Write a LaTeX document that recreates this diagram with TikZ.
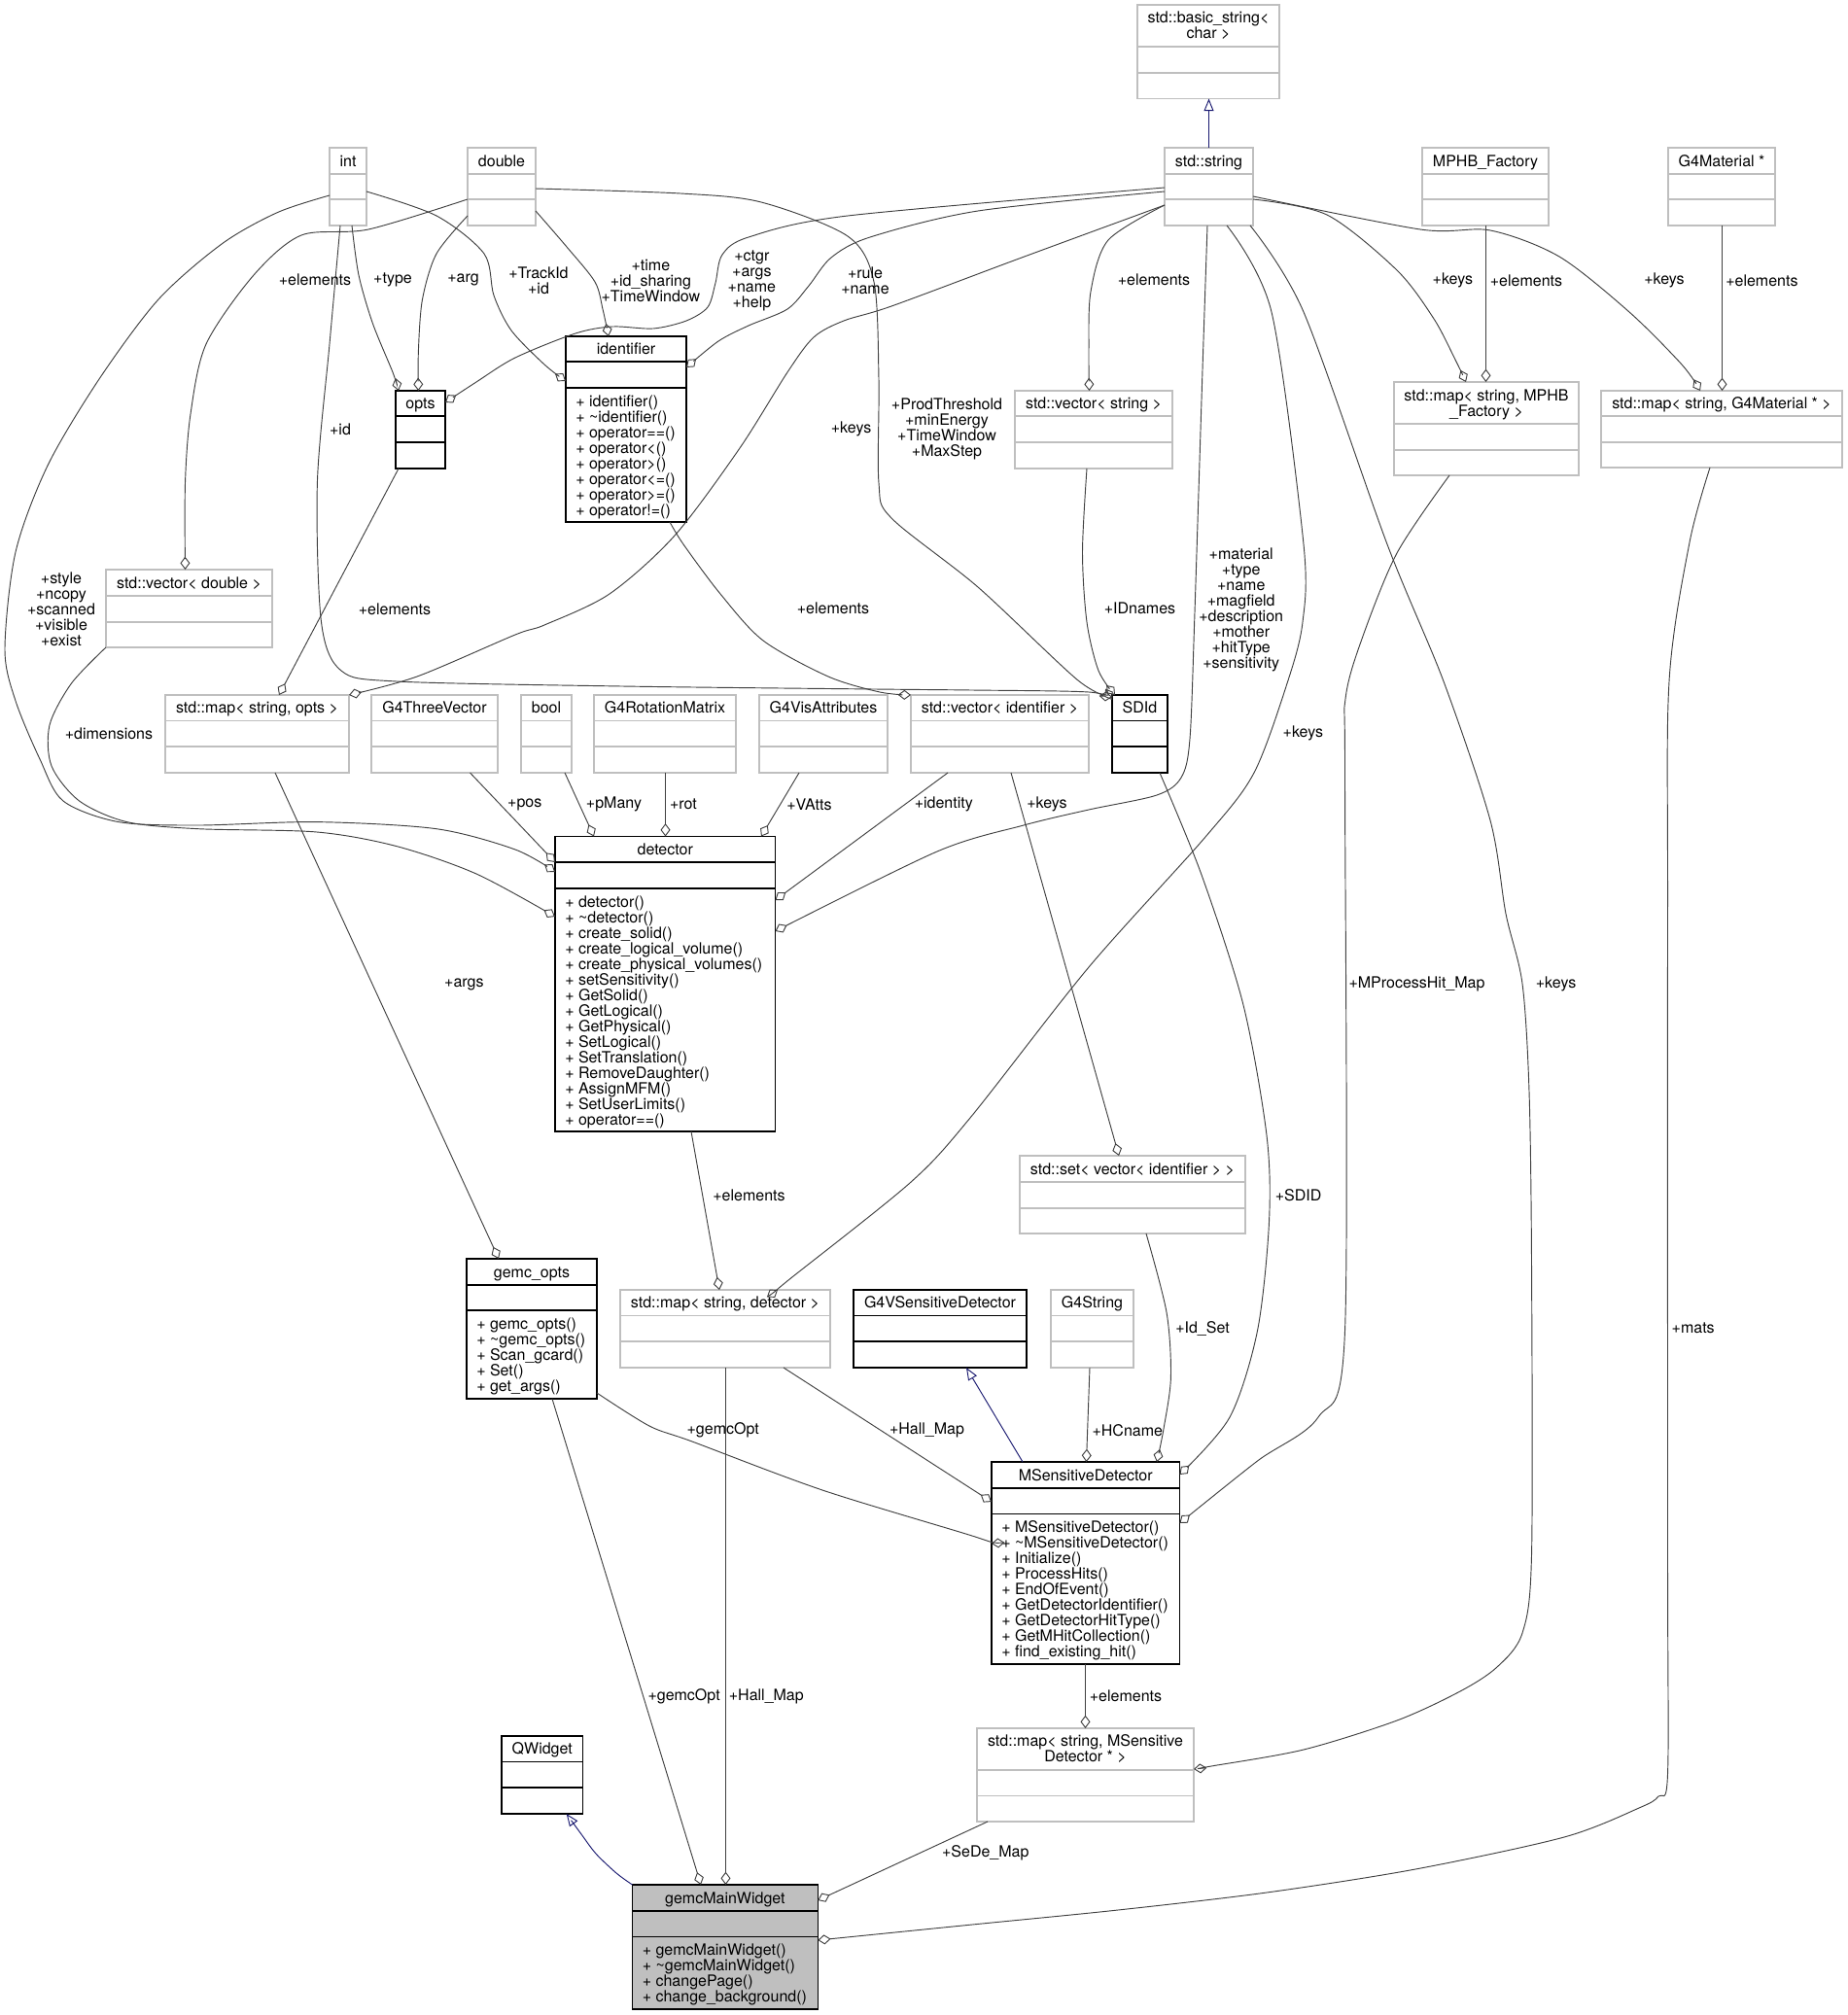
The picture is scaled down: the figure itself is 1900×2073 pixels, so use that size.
\documentclass[tikz,border=0pt]{standalone}
\usepackage{fontspec}
\setmainfont{TeX Gyre Heros}
\usetikzlibrary{fit,arrows.meta}
\definecolor{edgegray}{HTML}{404040}
\definecolor{boxgray}{HTML}{BFBFBF}
\definecolor{inhblue}{HTML}{191970}
\newcommand\dfont{\fontsize{12}{12}\selectfont}
% #1 name, #2 x1, #3 y1, #4 x2, #5 y2, #6 sep1, #7 sep2, #8 style
\newcommand\clsbox[8]{%
  \node[#8, fit={(#2,#3) (#4,#5)}] (#1) {};
  \draw[#8] (#1.west |- 0,#6) -- (#1.east |- 0,#6);
  \draw[#8] (#1.west |- 0,#7) -- (#1.east |- 0,#7);
}
\tikzset{
  docbox/.style={draw=black, line width=1.1pt, inner sep=0pt, outer sep=0pt},
  extbox/.style={draw=boxgray, line width=1.1pt, inner sep=0pt, outer sep=0pt},
  mainbox/.style={docbox, fill=boxgray},
  ttl/.style={anchor=base, inner sep=0pt, font=\dfont},
  ttltwo/.style={anchor=north, inner sep=0pt, align=center, font=\dfont},
  mem/.style={anchor=north west, inner sep=0pt, align=left, font=\dfont},
  lbl/.style={inner sep=0pt, align=center, font=\dfont},
  edge/.style={draw=edgegray, line width=0.7pt},
  agg/.style={edge, -{Diamond[open, length=10pt, width=7.5pt]}},
  inh/.style={draw=inhblue, line width=0.7pt, -{Triangle[open, length=9.5pt, width=7.5pt]}},
}
\begin{document}
\begin{tikzpicture}[x=0.75pt, y=-0.75pt]
\useasboundingbox (0,0) rectangle (1900,2073);
\fill[white] (0,0) rectangle (1900,2073);

% ---------------- class boxes ----------------
\clsbox{int}{339}{152}{377}{232}{179}{205}{extbox}
\clsbox{dbl}{481}{152}{551}{232}{179}{205}{extbox}
\clsbox{sstr}{1198}{152}{1289}{232}{179}{205}{extbox}
\clsbox{mphb}{1463}{152}{1593}{232}{179}{205}{extbox}
\clsbox{gmat}{1716}{152}{1826}{232}{179}{205}{extbox}
\clsbox{bstr}{1170}{5}{1316}{101.5}{48}{75}{extbox}
\clsbox{opts}{407}{402}{458}{482}{428}{455}{docbox}
\clsbox{ident}{582}{346}{706}{537}{372}{399}{docbox}
\clsbox{vstr}{1044}{402}{1206}{482}{428}{455}{extbox}
\clsbox{mmphb}{1434}{393}{1624}{489}{436}{463}{extbox}
\clsbox{mgmat}{1647}{402}{1895}{481}{428}{455}{extbox}
\clsbox{vdbl}{109}{586}{280}{666}{613}{640}{extbox}
\clsbox{mopts}{170}{715}{359}{795}{741.5}{768}{extbox}
\clsbox{g4tv}{382}{715}{512}{795}{741.5}{768}{extbox}
\clsbox{bool}{536}{715}{588}{795}{741.5}{768}{extbox}
\clsbox{g4rm}{611}{715}{757}{795}{741.5}{768}{extbox}
\clsbox{g4va}{781}{715}{913}{795}{741.5}{768}{extbox}
\clsbox{vid}{937}{715}{1120}{795}{741.5}{768}{extbox}
\clsbox{sdid}{1144}{715}{1201}{795}{741.5}{768}{docbox}
\clsbox{det}{571}{860.5}{797.5}{1164}{887}{914}{docbox}
\clsbox{set}{1049}{1189}{1281}{1269}{1216}{1243}{extbox}
\clsbox{gopts}{480}{1295}{614}{1439}{1322}{1348}{docbox}
\clsbox{mdet}{638}{1327}{854}{1407}{1353.5}{1380}{extbox}
\clsbox{g4vsd}{878}{1327}{1056}{1407}{1353.5}{1380}{docbox}
\clsbox{g4s}{1081}{1327}{1166}{1407}{1353.5}{1380}{extbox}
\clsbox{msd}{1020}{1504}{1213.5}{1712}{1531}{1557.5}{docbox}
\clsbox{mmsd}{1005}{1778}{1228}{1874}{1821}{1847.5}{extbox}
\clsbox{qw}{516}{1786}{599.5}{1866}{1812.5}{1839}{docbox}
\clsbox{gmw}{650.5}{1939}{841.3}{2067}{1966}{1992.5}{mainbox}

% ---------------- titles ----------------
\node[ttl] (int-t) at (358,171) {int};
\node[ttl] (dbl-t) at (516,171) {double};
\node[ttl] (sstr-t) at (1243.5,171) {std::string};
\node[ttl] (mphb-t) at (1528,171) {MPHB\_Factory};
\node[ttl] (gmat-t) at (1771,171) {G4Material *};
\node[ttltwo] (bstr-t) at (1243,10) {\rule{0pt}{10pt}std::basic\_string<\\char >};
\node[ttl] (opts-t) at (432.5,420.5) {opts};
\node[ttl] (ident-t) at (644,364.5) {identifier};
\node[ttl] (vstr-t) at (1125,420.5) {std::vector< string >};
\node[ttltwo] (mmphb-t) at (1529,399) {\rule{0pt}{10pt}std::map< string, MPHB\\\_Factory >};
\node[ttl] (mgmat-t) at (1771,420.5) {std::map< string, G4Material * >};
\node[ttl] (vdbl-t) at (194.5,605) {std::vector< double >};
\node[ttl] (mopts-t) at (264.5,733.75) {std::map< string, opts >};
\node[ttl] (g4tv-t) at (447,733.75) {G4ThreeVector};
\node[ttl] (bool-t) at (562,733.75) {bool};
\node[ttl] (g4rm-t) at (684,733.75) {G4RotationMatrix};
\node[ttl] (g4va-t) at (847,733.75) {G4VisAttributes};
\node[ttl] (vid-t) at (1028.5,733.75) {std::vector< identifier >};
\node[ttl] (sdid-t) at (1172.5,733.75) {SDId};
\node[ttl] (det-t) at (684.25,879.25) {detector};
\node[ttl] (set-t) at (1165,1208) {std::set< vector< identifier > >};
\node[ttl] (gopts-t) at (547,1314) {gemc\_opts};
\node[ttl] (mdet-t) at (746,1345.75) {std::map< string, detector >};
\node[ttl] (g4vsd-t) at (967,1345.75) {G4VSensitiveDetector};
\node[ttl] (g4s-t) at (1123.5,1345.75) {G4String};
\node[ttl] (msd-t) at (1116.75,1523) {MSensitiveDetector};
\node[ttltwo] (mmsd-t) at (1116.5,1783.2) {\rule{0pt}{10pt}std::map< string, MSensitive\\Detector * >};
\node[ttl] (qw-t) at (557.75,1804.75) {QWidget};
\node[ttl] (gmw-t) at (745.9,1958) {gemcMainWidget};

% ---------------- members ----------------
\node[mem] (ident-m) at (592,404.7) {\rule{0pt}{10pt}+ identifier()\\+ \textasciitilde identifier()\\+ operator==()\\+ operator<()\\+ operator>()\\+ operator<=()\\+ operator>=()\\+ operator!=()};
\node[mem] (det-m) at (581,919.7) {\rule{0pt}{10pt}+ detector()\\+ \textasciitilde detector()\\+ create\_solid()\\+ create\_logical\_volume()\\+ create\_physical\_volumes()\\+ setSensitivity()\\+ GetSolid()\\+ GetLogical()\\+ GetPhysical()\\+ SetLogical()\\+ SetTranslation()\\+ RemoveDaughter()\\+ AssignMFM()\\+ SetUserLimits()\\+ operator==()};
\node[mem] (gopts-m) at (490,1353.7) {\rule{0pt}{10pt}+ gemc\_opts()\\+ \textasciitilde gemc\_opts()\\+ Scan\_gcard()\\+ Set()\\+ get\_args()};
\node[mem] (msd-m) at (1030,1563.2) {\rule{0pt}{10pt}+ MSensitiveDetector()\\+ \textasciitilde MSensitiveDetector()\\+ Initialize()\\+ ProcessHits()\\+ EndOfEvent()\\+ GetDetectorIdentifier()\\+ GetDetectorHitType()\\+ GetMHitCollection()\\+ find\_existing\_hit()};
\node[mem] (gmw-m) at (660.5,1998.2) {\rule{0pt}{10pt}+ gemcMainWidget()\\+ \textasciitilde gemcMainWidget()\\+ changePage()\\+ change\_background()};

% ---------------- inheritance ----------------
\draw[inh] (1243.5,0 |- sstr.north) -- (1243.5,0 |- bstr.south);
\draw[inh] (1052,0 |- msd.north) -- (994,0 |- g4vsd.south);
\draw[inh] plot[smooth] coordinates {(gmw.north west) (634,1927) (613,1907) (598,1887) (582.7,0 |- qw.south)};

% ---------------- aggregation connectors ----------------
\draw[agg] plot[smooth] coordinates {(dbl.west |- 0,205) (379,236) (310,242) (261,283) (212,354) (196,426) (190.5,497) (190.5,0 |- vdbl.north)};
\draw[agg] plot[smooth] coordinates {(362,0 |- int.south) (369,283) (383.5,333) (404,383) (410,0 |- opts.north)};
\draw[agg] plot[smooth] coordinates {(dbl.west |- 0,222) (449,261) (434.5,308) (430.4,361) (430.4,0 |- opts.north)};
\draw[agg] plot[smooth] coordinates {(int.east |- 0,197) (449,222) (498,261) (508,304) (526,340) (560,375) (ident.west |- 0,392)};
\draw[agg] plot[smooth] coordinates {(dbl.east |- 0,217) (583,254) (612,290) (620,318) (626,0 |- ident.north)};
\draw[agg] plot[smooth] coordinates {(sstr.west |- 0,193) (872,222) (770,244) (743,262) (736,291) (728,316) (706,330) (672,338) (630,336) (592,343) (530,368) (490,393) (opts.east |- 0,414)};
\draw[agg] plot[smooth] coordinates {(sstr.west |- 0,197) (1006,217) (895,244) (855,265) (832,294) (810,318) (770,335) (739,351) (ident.east |- 0,378)};
\draw[agg] plot[smooth] coordinates {(dbl.east |- 0,194) (700,199) (783,208) (872,243) (899,290) (904,390) (904,497) (917,533) (1006,604) (1109,700) (sdid.west |- 0,717)};
\draw[agg] plot[smooth] coordinates {(sstr.west |- 0,211) (1140,247) (1122,300) (1120,360) (1120.5,0 |- vstr.north)};
\draw[agg] plot[smooth] coordinates {(sstr.east |- 0,205) (1365,221) (1437,278) (1475,328) (1497,370) (1508,0 |- mmphb.north)};
\draw[agg] (1528.5,0 |- mphb.south) -- (1528.5,0 |- mmphb.north);
\draw[agg] plot[smooth] coordinates {(sstr.east |- 0,202) (1461,236) (1533,237) (1604,264) (1676,321) (1730,375) (1749,0 |- mgmat.north)};
\draw[agg] (1771.5,0 |- gmat.south) -- (1771.5,0 |- mgmat.north);
\draw[agg] plot[smooth] coordinates {(350,0 |- int.south) (339,354) (326.4,497) (330.5,640) (351,690) (408,701) (640,706) (900,709) (1000,710) (1120,712) (sdid.west |- 0,720)};
\draw[agg] plot[smooth] coordinates {(1118,0 |- vstr.south) (1113.5,568) (1118,640) (1130,690) (1147,0 |- sdid.north)};
\draw[agg] plot[smooth] coordinates {(689,0 |- ident.south) (703,560) (741,611) (785,659) (852,696) (905,712) (vid.north west)};
\draw[agg] plot[smooth] coordinates {(sstr.west |- 0,211) (1051,265) (917,315) (868,330) (837,347) (810,383) (761,461) (694,551) (627,611) (560,643) (530,653) (429,696) (mopts.north east)};
\draw[agg] (410,0 |- opts.south) -- (287,0 |- mopts.north);
\draw[agg] plot[smooth] coordinates {(int.west |- 0,201) (285.6,218.5) (228.5,250.7) (163,308) (102,390) (49,479) (16,568) (5,668) (16,721) (41,781) (65,824) (122,845.6) (204,849) (326,845.6) (449,852.7) (530,874) (det.west |- 0,897)};
\draw[agg] plot[smooth] coordinates {(vdbl.south west) (73.5,703) (51,746) (53,788) (81.6,824) (130.6,845.6) (204,852.7) (326,856) (408,870.6) (490,899) (det.west |- 0,943)};
\draw[agg] (483.5,0 |- g4tv.south) -- (det.west |- 0,887);
\draw[agg] (581,0 |- bool.south) -- (611,0 |- det.north);
\draw[agg] (684.5,0 |- g4rm.south) -- (684.5,0 |- det.north);
\draw[agg] (822,0 |- g4va.south) -- (783,0 |- det.north);
\draw[agg] (975,0 |- vid.south) -- (det.east |- 0,926);
\draw[agg] plot[smooth] coordinates {(1242,0 |- sstr.south) (1237,380) (1229,630) (1224,760) (1215,800) (1190,818) (1120,833) (1053,849) (964,876) (det.east |- 0,958)};
\draw[agg] (1040,0 |- vid.south) -- (1151,0 |- set.north);
\draw[agg] plot[smooth] coordinates {(1193,0 |- sdid.south) (1236,900) (1279,1034) (1303,1168) (1305.5,1257) (1293.5,1369) (1265,1458) (msd.east |- 0,1517)};
\draw[agg] plot[smooth] coordinates {(1262,0 |- sstr.south) (1308,321) (1341,560) (1340,640) (1325,700) (1290,795) (1240,861) (1120,995) (998,1150) (936,1217) (811,1317) (800,0 |- mdet.north)};
\draw[agg] plot[smooth] coordinates {(1491,0 |- mmphb.south) (1437,569) (1400,660) (1384,719) (1383.5,800) (1383.5,1369) (1356,1458) (1293.5,1503) (msd.east |- 0,1567)};
\draw[agg] plot[smooth] coordinates {(1286,0 |- sstr.south) (1341,321) (1427,560) (1485,701) (1533,844) (1549,940) (1566,1012) (1573,1123) (1575.5,1300) (1575.5,1600) (1566,1680) (1540,1715) (1502,1740) (1437,1770) (1341,1800) (1246,1817) (mmsd.east |- 0,1820)};
\draw[agg] plot[smooth] coordinates {(1759,0 |- mgmat.south) (1738,558) (1717,701) (1715.5,940) (1715.5,1600) (1715.5,1825) (1706,1848) (1686,1860) (1609,1890) (1456,1923) (1303,1947) (1150,1965) (1000,1980) (gmw.east |- 0,1996)};
\draw[agg] (283,0 |- mopts.south) -- (513,0 |- gopts.north);
\draw[agg] (711,0 |- det.south) -- (740,0 |- mdet.north);
\draw[agg] plot[smooth] coordinates {(gopts.east |- 0,1433) (668,1467) (712,1483) (846,1533) (1000,1580) (msd.west |- 0,1588)};
\draw[agg] (806,0 |- mdet.south) -- (msd.west |- 0,1545);
\draw[agg] (1121,0 |- g4s.south) -- (1117.5,0 |- msd.north);
\draw[agg] plot[smooth] coordinates {(1179,0 |- set.south) (1200,1350) (1204.4,1417) (1197,1470) (1190,0 |- msd.north)};
\draw[agg] (1116.5,0 |- msd.south) -- (1116.5,0 |- mmsd.north);
\draw[agg] (1016,0 |- mmsd.south) -- (gmw.east |- 0,1955);
\draw[agg] (568,0 |- gopts.south) -- (721,0 |- gmw.north);
\draw[agg] (746.5,0 |- mdet.south) -- (746.5,0 |- gmw.north);

% ---------------- connector labels ----------------
\node[lbl] (l2) at (324,288) {+elements};
\node[lbl] (l3) at (404,288) {+type};
\node[lbl] (l4) at (476.5,288) {+arg};
\node[lbl] (l5) at (554,289) {+TrackId\\+id};
\node[lbl] (l6) at (669.4,289) {+time\\+id\_sharing\\+TimeWindow};
\node[lbl] (l7) at (773.4,289) {+ctgr\\+args\\+name\\+help};
\node[lbl] (l8) at (890,289) {+rule\\+name};
\node[lbl] (l10) at (1187,288) {+elements};
\node[lbl] (l11) at (1494.4,288.5) {+keys};
\node[lbl] (l12) at (1570,288.5) {+elements};
\node[lbl] (l13) at (1712,288.5) {+keys};
\node[lbl] (l14) at (1812.4,288.5) {+elements};
\node[lbl] (l15) at (350,441.7) {+id};
\node[lbl] (l18) at (875.6,441.7) {+keys};
\node[lbl] (l9) at (974,441.7) {+ProdThreshold\\+minEnergy\\+TimeWindow\\+MaxStep};
\node[lbl] (l20) at (63,627) {+style\\+ncopy\\+scanned\\+visible\\+exist};
\node[lbl] (l19) at (406,626.7) {+elements};
\node[lbl] (l17) at (857,626.2) {+elements};
\node[lbl] (l16) at (1172.5,626.2) {+IDnames};
\node[lbl] (l27) at (1276.7,627) {+material\\+type\\+name\\+magfield\\+description\\+mother\\+hitType\\+sensitivity};
\node[lbl] (l21) at (112,754.6) {+dimensions};
\node[lbl] (l30) at (1340.4,754) {+keys};
\node[lbl] (l22) at (539.8,827.8) {+pos};
\node[lbl] (l23) at (631.5,827.7) {+pMany};
\node[lbl] (l24) at (703,827.7) {+rot};
\node[lbl] (l25) at (832.4,827.7) {+VAtts};
\node[lbl] (l26) at (970.8,827.7) {+identity};
\node[lbl] (l28) at (1077,827.7) {+keys};
\node[lbl] (l34) at (477.4,1012.7) {+args};
\node[lbl] (l31) at (1457.5,1012.5) {+MProcessHit\_Map};
\node[lbl] (l32) at (1600.6,1012.5) {+keys};
\node[lbl] (l35) at (770.5,1230) {+elements};
\node[lbl] (l29) at (1335.6,1229.4) {+SDID};
\node[lbl] (l40) at (1237,1366.7) {+Id\_Set};
\node[lbl] (l33) at (1741.7,1366.5) {+mats};
\node[lbl] (l36) at (743.7,1471.7) {+gemcOpt};
\node[lbl] (l37) at (953.5,1471.7) {+Hall\_Map};
\node[lbl] (l39) at (1159.8,1471.7) {+HCname};
\node[lbl] (l43) at (703.6,1745.7) {+gemcOpt};
\node[lbl] (l44) at (788.3,1745.7) {+Hall\_Map};
\node[lbl] (l41) at (1158,1745) {+elements};
\node[lbl] (l42) at (1013.8,1906.7) {+SeDe\_Map};
\end{tikzpicture}
\end{document}
